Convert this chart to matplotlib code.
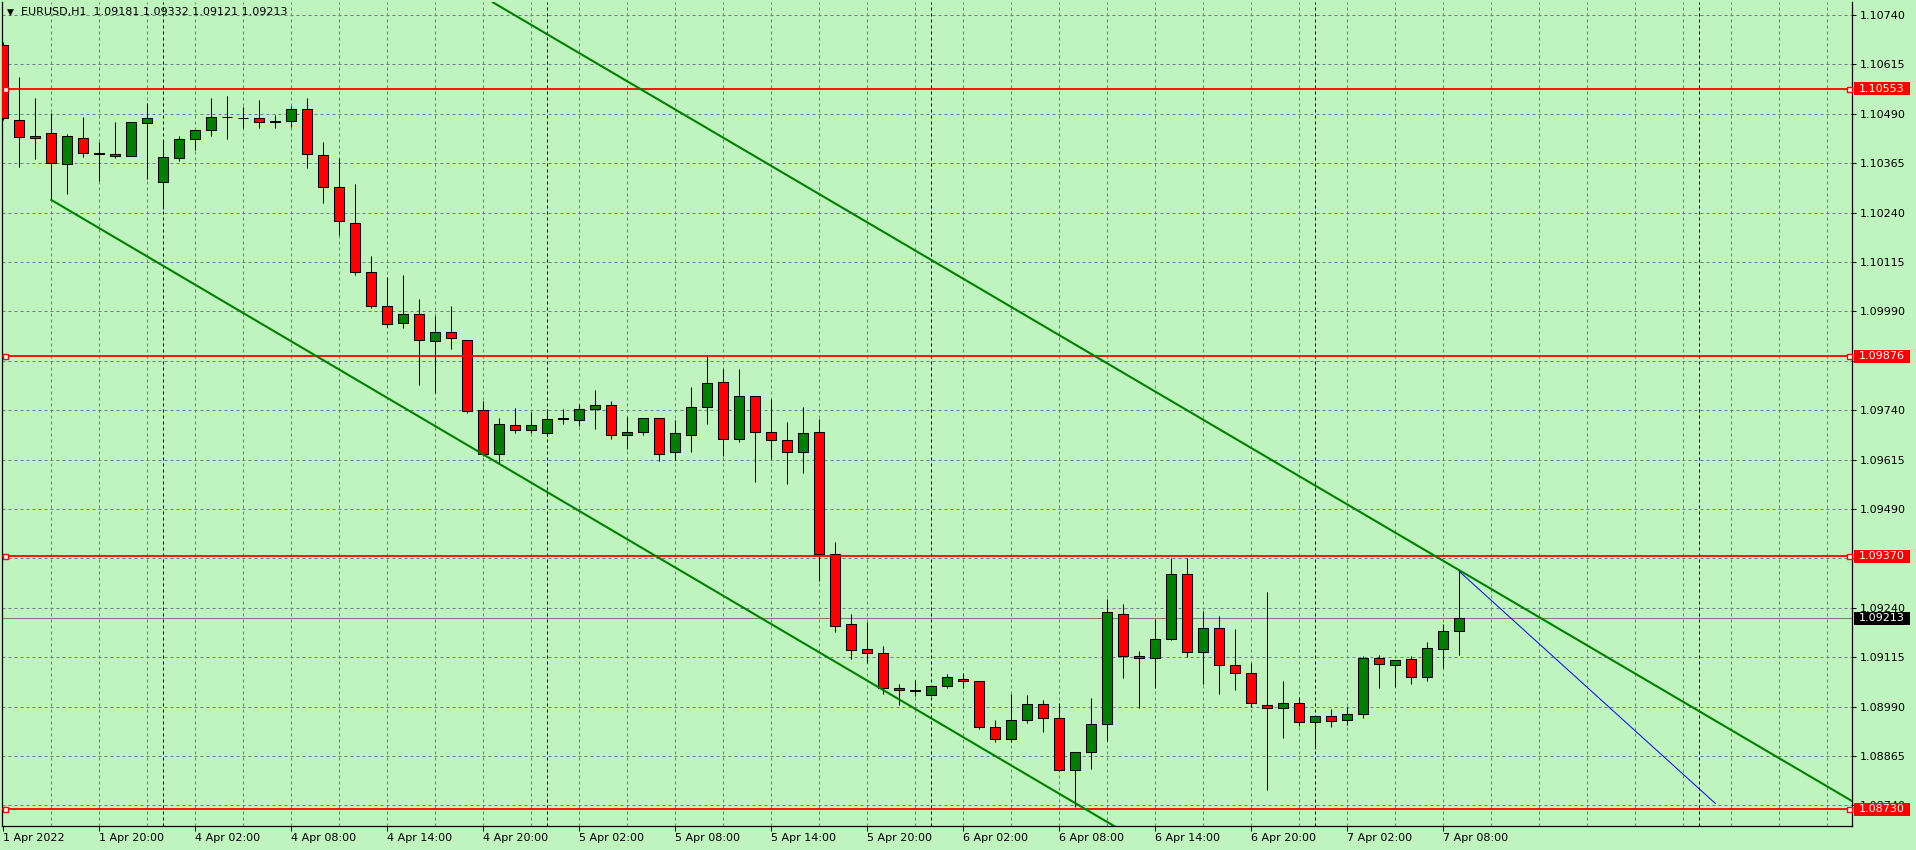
import matplotlib
matplotlib.use("Agg")
import matplotlib.pyplot as plt
from matplotlib.patches import Rectangle
from matplotlib.transforms import blended_transform_factory

# EURUSD H1 bars, 1 Apr 14:00 .. 7 Apr 09:00 (broker time)
symbol = "EURUSD,H1"
opens = [1.10664, 1.10474, 1.10433, 1.10441, 1.10362, 1.10428, 1.10392, 1.10388, 1.10383, 1.10466,
         1.10318, 1.10377, 1.10426, 1.10448, 1.10481, 1.10479, 1.10479, 1.10472, 1.10471, 1.10501,
         1.10385, 1.10304, 1.10213, 1.10089, 1.10003, 1.09960, 1.09983, 1.09915, 1.09937, 1.09917,
         1.09740, 1.09629, 1.09702, 1.09689, 1.09682, 1.09719, 1.09715, 1.09742, 1.09753, 1.09677,
         1.09684, 1.09720, 1.09633, 1.09677, 1.09748, 1.09811, 1.09668, 1.09775, 1.09686, 1.09664,
         1.09634, 1.09684, 1.09376, 1.09198, 1.09135, 1.09125, 1.09037, 1.09031, 1.09019, 1.09042,
         1.09059, 1.09054, 1.08938, 1.08908, 1.08956, 1.08996, 1.08961, 1.08829, 1.08875, 1.08946,
         1.09224, 1.09117, 1.09112, 1.09160, 1.09325, 1.09128, 1.09188, 1.09095, 1.09075, 1.08994,
         1.08986, 1.08999, 1.08951, 1.08966, 1.08956, 1.08971, 1.09112, 1.09095, 1.09110, 1.09064,
         1.09135, 1.09181]
highs = [1.10672, 1.10583, 1.10529, 1.10491, 1.10439, 1.10482, 1.10419, 1.10469, 1.10470, 1.10517,
         1.10423, 1.10434, 1.10449, 1.10531, 1.10535, 1.10508, 1.10525, 1.10487, 1.10510, 1.10529,
         1.10419, 1.10377, 1.10312, 1.10130, 1.10076, 1.10082, 1.10021, 1.09979, 1.10004, 1.09918,
         1.09764, 1.09720, 1.09746, 1.09736, 1.09742, 1.09743, 1.09755, 1.09791, 1.09763, 1.09724,
         1.09721, 1.09721, 1.09715, 1.09798, 1.09880, 1.09844, 1.09844, 1.09776, 1.09769, 1.09710,
         1.09748, 1.09718, 1.09406, 1.09225, 1.09205, 1.09143, 1.09047, 1.09057, 1.09043, 1.09072,
         1.09075, 1.09055, 1.08956, 1.09022, 1.09019, 1.09006, 1.08999, 1.08876, 1.09011, 1.09262,
         1.09249, 1.09130, 1.09211, 1.09367, 1.09367, 1.09233, 1.09219, 1.09187, 1.09100, 1.09280,
         1.09055, 1.09015, 1.08967, 1.08983, 1.08988, 1.09117, 1.09120, 1.09108, 1.09117, 1.09153,
         1.09198, 1.09332]
lows = [1.10474, 1.10355, 1.10376, 1.10272, 1.10287, 1.10381, 1.10321, 1.10377, 1.10382, 1.10324,
        1.10250, 1.10371, 1.10398, 1.10435, 1.10425, 1.10455, 1.10453, 1.10453, 1.10456, 1.10354,
        1.10265, 1.10184, 1.10081, 1.09999, 1.09951, 1.09949, 1.09805, 1.09783, 1.09896, 1.09732,
        1.09623, 1.09606, 1.09683, 1.09683, 1.09675, 1.09704, 1.09701, 1.09693, 1.09666, 1.09643,
        1.09677, 1.09612, 1.09615, 1.09633, 1.09706, 1.09625, 1.09660, 1.09559, 1.09616, 1.09552,
        1.09580, 1.09309, 1.09180, 1.09111, 1.09100, 1.09021, 1.08993, 1.09018, 1.09018, 1.09037,
        1.09037, 1.08933, 1.08900, 1.08900, 1.08948, 1.08925, 1.08826, 1.08737, 1.08831, 1.08904,
        1.09062, 1.08986, 1.09037, 1.09159, 1.09116, 1.09047, 1.09021, 1.09032, 1.08989, 1.08780,
        1.08910, 1.08940, 1.08882, 1.08938, 1.08943, 1.08961, 1.09037, 1.09039, 1.09047, 1.09054,
        1.09087, 1.09121]
closes = [1.10479, 1.10431, 1.10428, 1.10365, 1.10433, 1.10392, 1.10388, 1.10383, 1.10469, 1.10479,
          1.10380, 1.10426, 1.10448, 1.10481, 1.10481, 1.10479, 1.10469, 1.10470, 1.10501, 1.10388,
          1.10304, 1.10218, 1.10089, 1.10003, 1.09957, 1.09983, 1.09917, 1.09937, 1.09922, 1.09737,
          1.09629, 1.09704, 1.09689, 1.09702, 1.09717, 1.09718, 1.09742, 1.09753, 1.09677, 1.09684,
          1.09720, 1.09630, 1.09682, 1.09748, 1.09808, 1.09668, 1.09775, 1.09686, 1.09664, 1.09634,
          1.09682, 1.09376, 1.09195, 1.09133, 1.09125, 1.09037, 1.09032, 1.09030, 1.09042, 1.09064,
          1.09054, 1.08938, 1.08908, 1.08956, 1.08996, 1.08961, 1.08829, 1.08875, 1.08946, 1.09229,
          1.09117, 1.09112, 1.09160, 1.09325, 1.09128, 1.09188, 1.09095, 1.09075, 1.08999, 1.08986,
          1.08999, 1.08951, 1.08966, 1.08953, 1.08971, 1.09112, 1.09097, 1.09107, 1.09064, 1.09138,
          1.09181, 1.09213]

label_bars = [0, 6, 12, 18, 24, 30, 36, 42, 48, 54, 60, 66, 72, 78, 84, 90]
label_texts = ["1 Apr 2022", "1 Apr 20:00", "4 Apr 02:00", "4 Apr 08:00", "4 Apr 14:00",
               "4 Apr 20:00", "5 Apr 02:00", "5 Apr 08:00", "5 Apr 14:00", "5 Apr 20:00",
               "6 Apr 02:00", "6 Apr 08:00", "6 Apr 14:00", "6 Apr 20:00", "7 Apr 02:00",
               "7 Apr 08:00"]
grid_bars = [3, 6, 9, 12, 15, 18, 21, 24, 27, 30, 33, 36, 39, 42, 45, 48, 51, 54, 57, 60, 63,
             66, 69, 72, 75, 78, 81, 84, 87, 90, 93, 96, 99, 102, 105, 108, 111, 114]
day_breaks = [10, 34, 58, 82, 106]
price_ticks = [1.08740, 1.08865, 1.08990, 1.09115, 1.09240, 1.09365, 1.09490, 1.09615,
               1.09740, 1.09865, 1.09990, 1.10115, 1.10240, 1.10365, 1.10490, 1.10615, 1.10740]
hidden_ticks = [1.09365, 1.09865]  # covered by the level tags

levels = [1.10553, 1.09876, 1.09370, 1.08730]
last_price = closes[-1]

# trend lines (bar, price) anchors
upper_channel = [(91, 1.09335), (115, 1.08764)]
lower_channel = [(3, 1.10272), (43, 1.09318)]
blue_line = [(91, 1.09332), (107, 1.08745)]

bg = "#C0F4BE"
grid_col = "#6E7B92"
W, H = 1916, 850

plt.rcParams["font.family"] = ["DejaVu Sans"]
fig = plt.figure(figsize=(W / 100, H / 100), dpi=100, facecolor=bg)
ax = fig.add_axes([2.3 / W, (H - 826) / H, (1852 - 2.3) / W, (826 - 2.3) / H])
ax.set_facecolor(bg)

x = list(range(len(opens)))

# grid and day separators, drawn explicitly
dash = (0, (3, 3))
for b in grid_bars:
    ax.axvline(b, color=grid_col, linestyle=dash, linewidth=0.72, zorder=0.5)
for p in price_ticks:
    ax.axhline(p, color=grid_col, linestyle=dash, linewidth=0.72, zorder=0.5)
for b in day_breaks:
    ax.axvline(b, color="black", linestyle=dash, linewidth=0.72, zorder=1)

# wicks
ax.vlines(x, lows, highs, color="black", linewidth=0.75, zorder=3)
# bodies
colors = ["#008000" if c > o else "#FF0000" for o, c in zip(opens, closes)]
heights = [c - o for o, c in zip(opens, closes)]
ax.bar(x, heights, bottom=opens, width=0.62, color=colors, edgecolor="black",
       linewidth=0.75, zorder=4)

ax.set_xticks(label_bars)
ax.set_xticklabels(label_texts)
ax.set_yticks(price_ticks)
ax.set_yticklabels(["" if p in hidden_ticks else f"{p:.5f}" for p in price_ticks])
ax.grid(False)

for lbl in ax.get_xticklabels():
    lbl.set_horizontalalignment("left")

ax.yaxis.tick_right()
ax.tick_params(axis="x", length=3.5, width=0.72, pad=1.5, labelsize=8,
               direction="out", colors="black")
ax.tick_params(axis="y", length=3, width=0.72, pad=2.5, labelsize=8, colors="black")
ax.minorticks_off()

for side in ["left", "right", "bottom"]:
    ax.spines[side].set_color("black")
    ax.spines[side].set_linewidth(0.9)
ax.spines["top"].set_visible(False)

# horizontal levels
ytr = ax.get_yaxis_transform()
for p in levels:
    ax.axhline(p, color="#FF0000", linewidth=1.3, zorder=6)
    ax.plot([0.0013, 0.9986], [p, p], transform=ytr, linestyle="none", marker="s",
            markersize=3.6, markerfacecolor="white", markeredgecolor="#FF0000",
            markeredgewidth=1.0, zorder=7, clip_on=False)

# current price line
ax.axhline(last_price, color="#7A7A7A", linewidth=0.72, zorder=2)

# channel
ax.axline(upper_channel[0], upper_channel[1], color="#008000", linewidth=1.5, zorder=6)
(lx0, ly0), (lx1, ly1) = lower_channel
slope = (ly1 - ly0) / (lx1 - lx0)
ax.plot([lx0, 140], [ly0, ly0 + slope * (140 - lx0)], color="#008000", linewidth=1.5,
        zorder=6)
ax.plot([blue_line[0][0], blue_line[1][0]], [blue_line[0][1], blue_line[1][1]],
        color="#0000FF", linewidth=0.7, zorder=6)

ylim = (1.10740 - 811 / 39520, 1.10740 + 12.7 / 39520)
ax.set_xlim((2.3 - 3.3) / 16, (1852 - 3.3) / 16)

# price tags on the right scale
tr = blended_transform_factory(fig.transFigure, ax.transData)
box_h = 13 / 39520
tags = [(p, "#FF0000") for p in levels] + [(last_price, "black")]
for p, col in tags:
    ax.add_patch(Rectangle((1854 / W, p - box_h / 2), 56 / W, box_h, transform=tr,
                           facecolor=col, edgecolor="none", clip_on=False, zorder=8))
    ax.text(1859 / W, p, f"{p:.5f}", transform=tr, color="white", fontsize=8,
            va="center", ha="left", zorder=9, clip_on=False)
ax.set_ylim(*ylim)

# header
fig.text(7 / W, 1 - 12.5 / H, "\u25bc", fontsize=6.5, va="center", ha="left", color="black")
fig.text(21 / W, 1 - 12.5 / H,
         f"{symbol}  {opens[-1]:.5f} {highs[-1]:.5f} {lows[-1]:.5f} {closes[-1]:.5f}",
         fontsize=8, va="center", ha="left", color="black")

fig.savefig("out.png", dpi=100, facecolor=bg)
